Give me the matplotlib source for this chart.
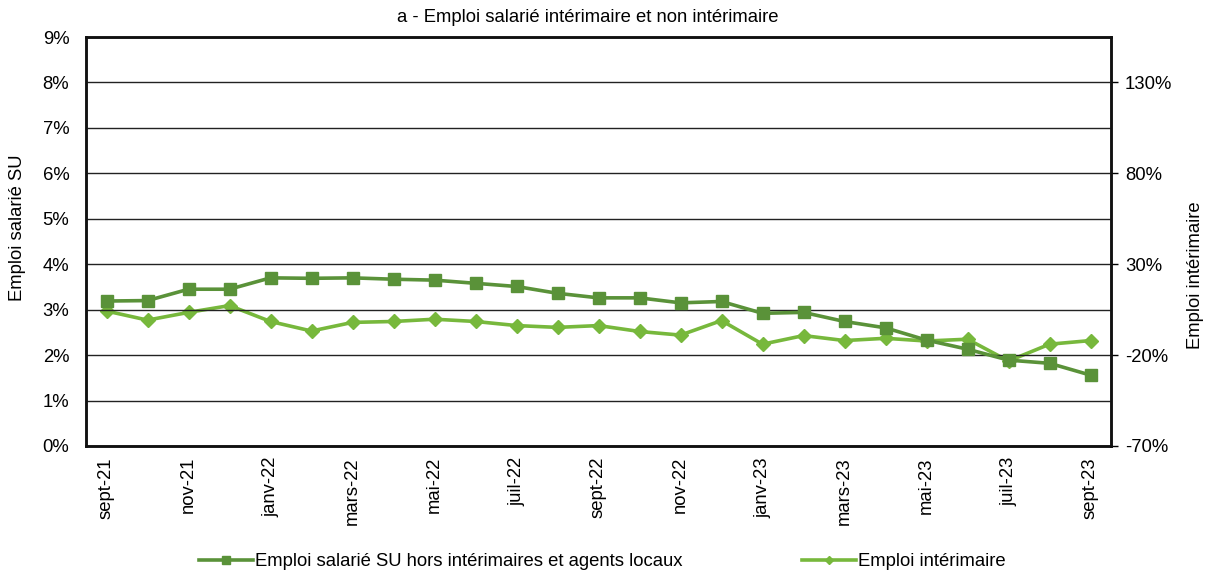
import matplotlib
matplotlib.use("Agg")
import matplotlib.pyplot as plt

plt.rcParams['font.family'] = ['Liberation Sans', 'DejaVu Sans']

months = ["sept-21", "oct-21", "nov-21", "déc-21", "janv-22", "févr-22", "mars-22", "avr-22",
          "mai-22", "juin-22", "juil-22", "août-22", "sept-22", "oct-22", "nov-22", "déc-22",
          "janv-23", "févr-23", "mars-23", "avr-23", "mai-23", "juin-23", "juil-23", "août-23", "sept-23"]

# Emploi salarié SU hors intérimaires et agents locaux (left axis, %)
emploi_su = [3.19, 3.20, 3.45, 3.45, 3.70, 3.69, 3.70, 3.67, 3.65, 3.58, 3.51, 3.36, 3.26,
             3.26, 3.15, 3.18, 2.92, 2.94, 2.74, 2.60, 2.33, 2.13, 1.89, 1.82, 1.56]

# Emploi intérimaire (right axis, %)
emploi_interim = [4.25, -0.75, 3.5, 7.25, -1.5, -6.75, -2.0, -1.5, -0.25, -1.5, -3.75, -4.75,
                  -3.75, -7.0, -9.0, -1.0, -14.0, -9.25, -12.0, -10.75, -12.25, -11.25,
                  -23.25, -14.0, -12.0]

left_ticks = [0, 1, 2, 3, 4, 5, 6, 7, 8, 9]
right_ticks = [-70, -20, 30, 80, 130]

dark = "#5A9239"
light = "#77B83C"
FS = 13.3

fig = plt.figure(figsize=(12.05, 5.73), dpi=100)
ax = fig.add_axes([86/1205, 1 - 446/573, 1025/1205, 409/573])
ax2 = ax.twinx()

x = list(range(len(months)))
ax.set_zorder(ax2.get_zorder() + 1)
ax.patch.set_visible(False)

ax2.plot(x, emploi_interim, color=light, lw=2.6, marker="D", ms=7, zorder=3,
         label="Emploi intérimaire")
ax.plot(x, emploi_su, color=dark, lw=2.6, marker="s", ms=8.5, zorder=4,
        label="Emploi salarié SU hors intérimaires et agents locaux")

ax.set_xlim(-0.5, len(months) - 0.5)
ax.set_ylim(0, 9)
ax2.set_ylim(-70, 155)
ax.set_yticks(left_ticks)
ax.set_yticklabels([f"{t}%" for t in left_ticks])
ax2.set_yticks(right_ticks)
ax2.set_yticklabels([f"{t}%" for t in right_ticks])

ax.set_xticks(x[::2])
ax.set_xticklabels(months[::2], rotation=90)

ax.grid(axis="y", color="#222222", lw=1.0)
ax.tick_params(axis="y", length=0, pad=12, labelsize=FS)
ax.tick_params(axis="x", length=0, pad=8, labelsize=FS)
ax2.tick_params(axis="y", length=5, width=1, pad=5, labelsize=FS, direction="out")

for a in (ax, ax2):
    for s in a.spines.values():
        s.set_linewidth(1.8)
        s.set_color("#111111")

fig.text(18/1205, 1 - 228/573, "Emploi salarié SU", rotation=90,
         ha="center", va="center", fontsize=FS)
fig.text(1195/1205, 1 - 275/573, "Emploi intérimaire", rotation=90,
         ha="center", va="center", fontsize=FS)

fig.text(588/1205, 1 - 17/573, "a - Emploi salarié intérimaire et non intérimaire",
         ha="center", va="center", fontsize=FS)

h1, l1 = ax.get_legend_handles_labels()
h2, l2 = ax2.get_legend_handles_labels()
leg = fig.legend(h1 + h2, l1 + l2, loc="center", bbox_to_anchor=(0.5, 1 - 562/573),
                 ncol=2, frameon=False, fontsize=FS, handlelength=2.9,
                 handletextpad=0.1, columnspacing=6.5, markerscale=0.6)

fig.savefig("out.png", dpi=100)
